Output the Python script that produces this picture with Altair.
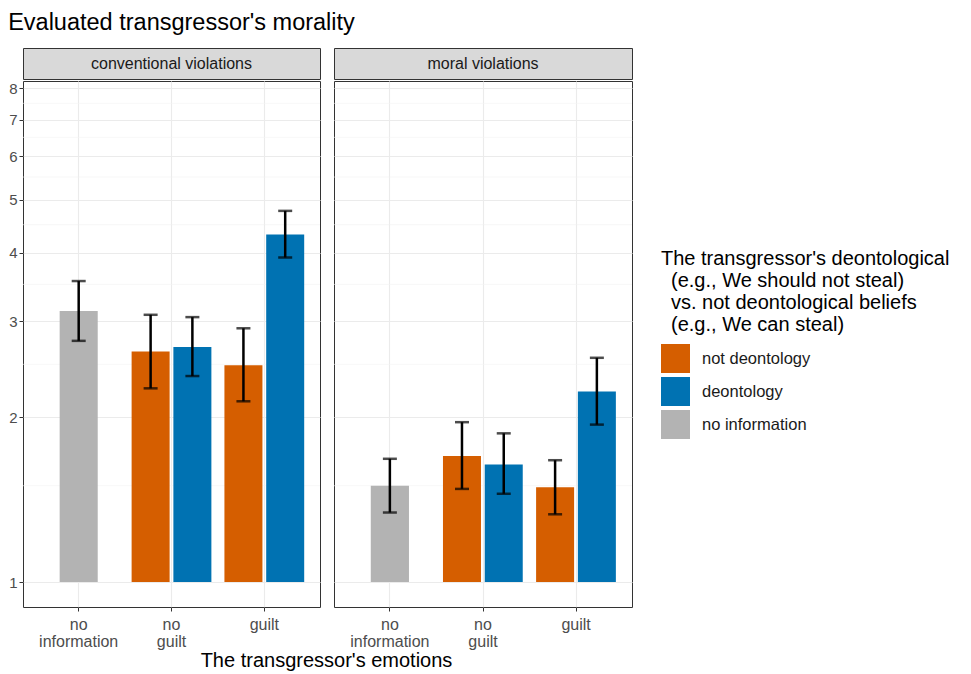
import altair as alt
import pandas as pd

FONT = "Liberation Sans"

panels = ["conventional violations", "moral violations"]
emotions = ["no information", "no guilt", "guilt"]
beliefs = ["not deontology", "deontology", "no information"]
belief_colors = ["#D55E00", "#0072B2", "#B3B3B3"]

bar_panel = ["conventional violations"] * 5 + ["moral violations"] * 5
bar_emotion = ["no information", "no guilt", "no guilt", "guilt", "guilt"] * 2
bar_belief = ["no information", "not deontology", "deontology", "not deontology", "deontology"] * 2
bar_mean = [3.13, 2.64, 2.69, 2.49, 4.32, 1.50, 1.70, 1.64, 1.49, 2.23]
bar_lo = [2.76, 2.26, 2.38, 2.14, 3.92, 1.34, 1.48, 1.45, 1.33, 1.94]
bar_hi = [3.55, 3.08, 3.05, 2.91, 4.77, 1.68, 1.96, 1.87, 1.67, 2.57]

y_ticks = [1, 2, 3, 4, 5, 6, 7, 8]
y_minor = [1.5, 2.5, 3.5, 4.5, 5.5, 6.5, 7.5]
y_domain = [0.9003, 8.24]

x_title = "The transgressor's emotions"
legend_title = [
    "The transgressor's deontological",
    "\u200b\u2002(e.g., We should not steal)",
    "\u200b\u2002vs. not deontological beliefs",
    "\u200b\u2002(e.g., We can steal)",
]

df = pd.DataFrame({
    "panel": bar_panel,
    "emotion": bar_emotion,
    "belief": bar_belief,
    "mean": bar_mean,
    "lo": bar_lo,
    "hi": bar_hi,
})

W1, W2, H, STRIP_H, GAP = 297, 298, 526, 31, 12

color_enc = alt.Color(
    "belief:N",
    scale=alt.Scale(domain=beliefs, range=belief_colors),
    legend=alt.Legend(title=legend_title),
)


def panel(name, first, w):
    d = df[df.panel == name]
    grouped = d[d.belief != "no information"]
    single = d[d.belief == "no information"]

    yscale = alt.Scale(type="log", domain=y_domain, nice=False, zero=False)
    if first:
        yaxis = alt.Axis(values=y_ticks, title=None, grid=True, domain=False,
                         labelFontSize=15, labelColor="#4D4D4D", labelFont=FONT,
                         tickSize=4, tickColor="#333333", labelPadding=2,
                         gridColor="#EBEBEB", gridWidth=1.1)
    else:
        yaxis = alt.Axis(values=y_ticks, title=None, grid=True, domain=False,
                         labels=False, ticks=False,
                         gridColor="#EBEBEB", gridWidth=1.1)

    xaxis = alt.Axis(
        labelExpr="split(datum.label, ' ')", labelAngle=0,
        labelFontSize=16, labelColor="#4D4D4D", labelFont=FONT,
        labelLineHeight=17, labelPadding=5, labelBaseline="top",
        tickSize=4, tickColor="#333333", domain=False,
        grid=True, gridColor="#EBEBEB", gridWidth=1.1, bandPosition=0.5,
        title=None,
    )
    xscale = alt.Scale(domain=emotions, paddingInner=0.1, paddingOuter=0.15)

    def X():
        return alt.X("emotion:N", sort=emotions, scale=xscale, axis=xaxis)

    def Y(field):
        return alt.Y(field, scale=yscale, axis=yaxis)

    xoff = alt.XOffset("belief:N",
                       scale=alt.Scale(domain=["not deontology", "deontology"],
                                       paddingInner=0.09, paddingOuter=0.045))

    minor = alt.Chart(pd.DataFrame({"m": y_minor})).mark_rule(
        color="#F2F2F2", strokeWidth=0.6
    ).encode(y=Y("m:Q"))

    bars_g = alt.Chart(grouped).mark_bar().encode(
        x=X(), xOffset=xoff, y=Y("mean:Q"), y2=alt.datum(1), color=color_enc
    )
    bars_s = alt.Chart(single).mark_bar(width={"band": 0.4556}).encode(
        x=X(), y=Y("mean:Q"), y2=alt.datum(1), color=color_enc
    )
    err_g = alt.Chart(grouped).mark_rule(color="black", strokeWidth=2.5).encode(
        x=X(), xOffset=xoff, y=Y("lo:Q"), y2="hi:Q"
    )
    err_s = alt.Chart(single).mark_rule(color="black", strokeWidth=2.5).encode(
        x=X(), y=Y("lo:Q"), y2="hi:Q"
    )
    cap_g = alt.Chart(grouped).transform_fold(["lo", "hi"], as_=["which", "val"]).mark_tick(
        color="black", size=14, thickness=2.5
    ).encode(x=X(), xOffset=xoff, y=Y("val:Q"))
    cap_s = alt.Chart(single).transform_fold(["lo", "hi"], as_=["which", "val"]).mark_tick(
        color="black", size=14, thickness=2.5
    ).encode(x=X(), y=Y("val:Q"))

    body = alt.layer(minor, bars_g, bars_s, err_g, err_s, cap_g, cap_s).properties(
        width=w, height=H
    )

    strip = alt.Chart(pd.DataFrame({"panel": [name]})).mark_text(
        fontSize=16, color="#1A1A1A", font=FONT
    ).encode(
        text="panel:N", x=alt.value(w / 2), y=alt.value(STRIP_H / 2)
    ).properties(
        width=w, height=STRIP_H,
        view=alt.ViewBackground(fill="#D9D9D9", stroke="#333333", strokeWidth=1),
    )
    return alt.vconcat(strip, body, spacing=0)


TOTAL_W = W1 + GAP + W2
title_row = alt.Chart(pd.DataFrame({"t": [x_title]})).mark_text(
    fontSize=20, color="black", font=FONT, baseline="middle"
).encode(
    text="t:N", x=alt.value(TOTAL_W / 2), y=alt.value(10)
).properties(width=TOTAL_W, height=18,
             view=alt.ViewBackground(stroke="transparent", fill="transparent"))

panels_row = alt.hconcat(
    panel(panels[0], True, W1), panel(panels[1], False, W2), spacing=GAP
)

chart = alt.vconcat(panels_row, title_row, spacing=0).resolve_scale(
    color="shared"
).resolve_legend(color="shared").properties(
    title=alt.Title("Evaluated transgressor's morality", anchor="start", fontSize=23.5,
                    font=FONT, fontWeight="normal", color="black", offset=13),
    padding={"left": 0, "top": 3, "right": 5, "bottom": 0},
    background="white",
).configure_view(
    stroke="#333333", strokeWidth=1
).configure_legend(
    orient="none", legendX=638, legendY=201,
    titleFontSize=20, titleFont=FONT, titleColor="black", titleFontWeight="normal",
    titleLineHeight=22, titlePadding=9, titleLimit=400,
    labelFontSize=16.5, labelFont=FONT, labelColor="#1A1A1A", labelOffset=12,
    symbolType="square", symbolSize=841, symbolStrokeWidth=0, rowPadding=4,
)

chart.save("out.html", embed_options={"renderer": "svg", "actions": False})
